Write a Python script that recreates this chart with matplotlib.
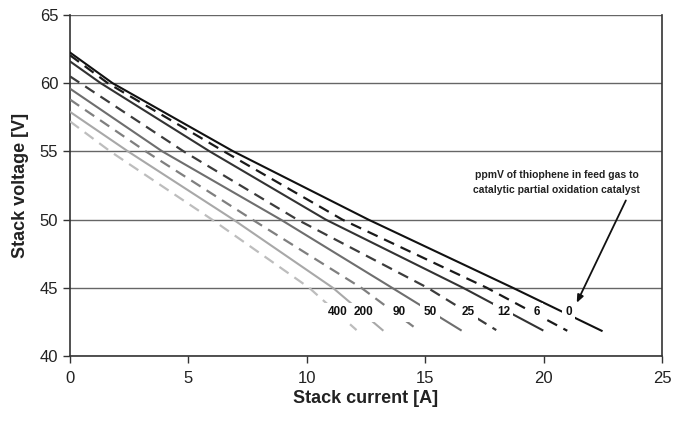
import matplotlib
matplotlib.use("Agg")
import matplotlib.pyplot as plt

plt.rcParams['font.family'] = ['Liberation Sans', 'DejaVu Sans']

levels = ["0", "6", "12", "25", "50", "90", "200", "400"]
I_0 = [0, 1.8, 6.9, 12.6, 18.7, 22.45]
V_0 = [62.25, 60, 55, 50, 45, 41.85]
I_6 = [0, 1.6, 6.5, 11.5, 17.6, 21.0]
V_6 = [62.05, 60, 55, 50, 45, 41.85]
I_12 = [0, 1.3, 5.9, 10.8, 16.6, 19.95]
V_12 = [61.6, 60, 55, 50, 45, 41.9]
I_25 = [0, 4.8, 9.6, 15.1, 18.0]
V_25 = [60.5, 55, 50, 45, 41.9]
I_50 = [0, 3.9, 8.9, 13.6, 16.5]
V_50 = [59.6, 55, 50, 45, 41.9]
I_90 = [0, 3.2, 7.7, 12.3, 14.7]
V_90 = [58.8, 55, 50, 45, 41.9]
I_200 = [0, 2.45, 6.9, 11.1, 13.2]
V_200 = [57.9, 55, 50, 45, 41.9]
I_400 = [0, 1.7, 6.0, 10.1, 12.1]
V_400 = [57.2, 55, 50, 45, 41.9]

label_x = [21.05, 19.7, 18.3, 16.8, 15.2, 13.9, 12.4, 11.3]
label_y = 43.2

curves = [(I_0, V_0), (I_6, V_6), (I_12, V_12), (I_25, V_25),
          (I_50, V_50), (I_90, V_90), (I_200, V_200), (I_400, V_400)]
colors = ["#111111", "#1a1a1a", "#333333", "#3c3c3c", "#6e6e6e", "#7f7f7f", "#a8a8a8", "#bdbdbd"]
styles = ["-", "--", "-", "--", "-", "--", "-", "--"]

fig = plt.figure(figsize=(6.85, 4.21), dpi=100)
ax = fig.add_axes([70/685, 1-356/421, (662-70)/685, (356-15)/421])

for (I, V), c, ls in zip(curves, colors, styles):
    if ls == "--":
        ax.plot(I, V, color=c, lw=1.6, linestyle=(0, (5, 3.2)), zorder=3)
    else:
        ax.plot(I, V, color=c, lw=1.5, linestyle="-", zorder=3)

for lab, lx in zip(levels, label_x):
    ax.text(lx, label_y, lab, fontsize=8.5, fontweight='bold', ha='center', va='center',
            color='#111111', zorder=5,
            bbox=dict(boxstyle='square,pad=0.3', fc='white', ec='none'))

ax.annotate("ppmV of thiophene in feed gas to\ncatalytic partial oxidation catalyst",
            xy=(21.4, 43.9), xytext=(20.55, 52.7), fontsize=7.5, fontweight='bold',
            ha='center', va='center', color='#222222', linespacing=1.6,
            arrowprops=dict(arrowstyle='-|>,head_length=0.6,head_width=0.25',
                            color='#111111', lw=1.3, shrinkA=2, shrinkB=0,
                            relpos=(0.93, 0.0)), zorder=6)

ax.set_xlim(0, 25)
ax.set_ylim(40, 65)
ax.set_xticks([0, 5, 10, 15, 20, 25])
ax.set_yticks([40, 45, 50, 55, 60, 65])
ax.yaxis.grid(True, color='#666666', lw=1.0)
ax.set_axisbelow(True)
ax.spines['top'].set_visible(False)
for s in ['left', 'bottom', 'right']:
    ax.spines[s].set_color('#333333')
    ax.spines[s].set_linewidth(1.2)
ax.tick_params(axis='both', labelsize=12, length=5, width=1, color='#333333', labelcolor='#222222')
ax.tick_params(axis='x', pad=6)
ax.set_xlabel("Stack current [A]", fontsize=13, fontweight='bold', color='#222222', labelpad=3)
ax.set_ylabel("Stack voltage [V]", fontsize=13, fontweight='bold', color='#222222', labelpad=8)

fig.savefig("out.png", dpi=100)
